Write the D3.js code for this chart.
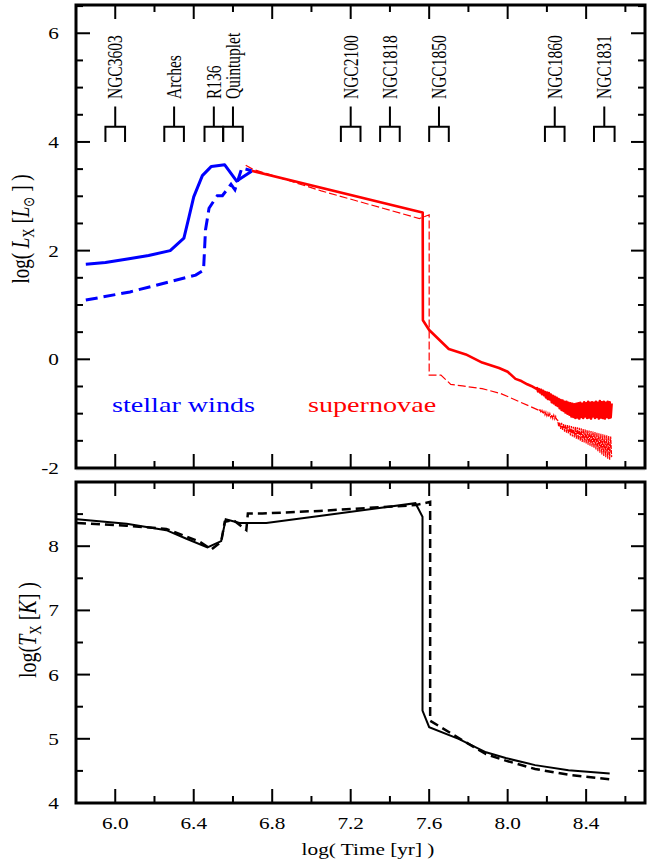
<!DOCTYPE html>
<html><head><meta charset="utf-8">
<script src="https://cdn.jsdelivr.net/npm/d3@7"></script>
<style>body{margin:0;background:#fff}svg{display:block}text{font-family:"Liberation Serif","Times New Roman",serif}</style>
</head><body><svg id="c" width="649" height="861"></svg>
<script>
// ---------------- DATA ----------------
const clusterNames = ["NGC3603","Arches","R136","Quintuplet","NGC2100","NGC1818","NGC1850","NGC1860","NGC1831"];
const clusterLo = [5.95,6.25,6.455,6.55,7.15,7.35,7.60,8.19,8.44];
const clusterHi = [6.05,6.35,6.55,6.65,7.25,7.45,7.70,8.29,8.545];

const blueSolidX = [5.85,5.95,6.07,6.17,6.28,6.35,6.376,6.40,6.444,6.49,6.558,6.619,6.695];
const blueSolidY = [1.75,1.78,1.85,1.91,2.00,2.23,2.62,2.99,3.38,3.55,3.58,3.28,3.46];
const blueDashX = [5.85,6.075,6.28,6.41,6.45,6.46,6.478,6.52,6.546,6.59,6.61,6.645,6.695];
const blueDashY = [1.09,1.24,1.43,1.55,1.64,2.38,2.78,3.01,3.01,3.22,3.12,3.52,3.47];

const redSolidX = [6.695,7.555,7.567,7.568,7.60,7.70,7.787,7.87,7.956,8.00,8.04,8.07,8.10,8.12,8.145];
const redSolidY = [3.47,2.71,2.70,0.72,0.54,0.19,0.09,-0.06,-0.16,-0.23,-0.36,-0.40,-0.46,-0.49,-0.54];
const redSolidTailX = [8.150,8.155,8.160,8.165,8.170,8.175,8.180,8.185,8.190,8.195,8.200,8.205,8.210,8.215,8.220,8.225,8.230,8.235,8.240,8.245,8.250,8.255,8.260,8.265,8.270,8.275,8.280,8.285,8.290,8.295,8.300,8.305,8.310,8.315,8.320,8.325,8.330,8.335,8.340,8.345,8.350,8.355,8.360,8.365,8.370,8.375,8.380,8.385,8.390,8.395,8.400,8.405,8.410,8.415,8.420,8.425,8.430,8.435,8.440,8.445,8.450,8.455,8.460,8.465,8.470,8.475,8.480,8.485,8.490,8.495,8.500,8.505,8.510,8.515,8.520,8.525,8.530];
const redSolidTailY = [-0.53,-0.59,-0.55,-0.61,-0.56,-0.64,-0.58,-0.66,-0.60,-0.70,-0.61,-0.73,-0.62,-0.74,-0.65,-0.79,-0.67,-0.81,-0.69,-0.84,-0.71,-0.86,-0.73,-0.90,-0.75,-0.93,-0.76,-0.95,-0.78,-0.98,-0.78,-1.00,-0.80,-1.02,-0.81,-1.05,-0.82,-1.06,-0.83,-1.08,-0.82,-1.07,-0.81,-1.09,-0.80,-1.06,-0.82,-1.08,-0.79,-1.05,-0.81,-1.08,-0.78,-1.07,-0.80,-1.09,-0.79,-1.05,-0.80,-1.08,-0.78,-1.06,-0.80,-1.09,-0.77,-1.07,-0.79,-1.08,-0.78,-1.09,-0.80,-1.06,-0.78,-1.08,-0.79,-1.07,-0.81];

const redDashX = [6.665,6.70,7.05,7.55,7.60,7.60,7.66,7.71,7.77,7.87,7.965,8.06,8.16];
const redDashY = [3.57,3.50,3.10,2.59,2.66,-0.29,-0.29,-0.46,-0.49,-0.54,-0.63,-0.78,-0.94];
const redDashTailX = [8.160,8.165,8.170,8.175,8.180,8.185,8.190,8.195,8.200,8.205,8.210,8.215,8.220,8.225,8.230,8.235,8.240,8.245,8.250,8.255,8.260,8.265,8.270,8.275,8.280,8.285,8.290,8.295,8.300,8.305,8.310,8.315,8.320,8.325,8.330,8.335,8.340,8.345,8.350,8.355,8.360,8.365,8.370,8.375,8.380,8.385,8.390,8.395,8.400,8.405,8.410,8.415,8.420,8.425,8.430,8.435,8.440,8.445,8.450,8.455,8.460,8.465,8.470,8.475,8.480,8.485,8.490,8.495,8.500,8.505,8.510,8.515,8.520,8.525,8.530];
const redDashTailY = [-0.94,-0.93,-0.98,-0.94,-1.00,-0.96,-1.02,-0.97,-1.04,-0.99,-1.06,-1.00,-1.07,-1.02,-1.09,-1.03,-1.10,-1.05,-1.11,-1.12,-1.24,-1.16,-1.28,-1.17,-1.30,-1.19,-1.33,-1.20,-1.35,-1.21,-1.37,-1.22,-1.40,-1.23,-1.42,-1.24,-1.44,-1.24,-1.46,-1.25,-1.48,-1.26,-1.50,-1.27,-1.52,-1.28,-1.53,-1.29,-1.55,-1.30,-1.57,-1.31,-1.59,-1.32,-1.61,-1.33,-1.63,-1.34,-1.66,-1.35,-1.69,-1.36,-1.72,-1.37,-1.75,-1.38,-1.78,-1.39,-1.80,-1.40,-1.83,-1.41,-1.85,-1.42,-1.80];

const tSolidX = [5.805,6.058,6.26,6.36,6.47,6.54,6.563,6.634,6.77,7.04,7.53,7.566,7.566,7.60,7.75,7.89,7.99,8.14,8.31,8.52];
const tSolidY = [8.42,8.35,8.25,8.12,7.98,8.08,8.42,8.36,8.36,8.47,8.67,8.46,5.44,5.18,5.00,4.79,4.70,4.59,4.51,4.46];
const tDashX = [5.805,6.058,6.26,6.43,6.49,6.54,6.558,6.60,6.668,6.676,6.75,7.04,7.53,7.605,7.605,7.66,7.79,7.89,7.99,8.14,8.31,8.52];
const tDashY = [8.36,8.32,8.27,8.07,7.95,8.07,8.38,8.41,8.25,8.51,8.51,8.55,8.64,8.69,5.28,5.18,4.94,4.76,4.66,4.53,4.44,4.37];

const xTickLabels = ["6.0","6.4","6.8","7.2","7.6","8.0","8.4"];
const y1TickLabels = ["-2","0","2","4","6"];
const y2TickLabels = ["4","5","6","7","8"];

// ---------------- LAYOUT ----------------
const L = 76, R = 645, T1 = 5, B1 = 468, T2 = 482, B2 = 803;
const x = d3.scaleLinear().domain([5.8, 8.7]).range([L, R]);
const y1 = d3.scaleLinear().domain([-2, 6.52]).range([B1, T1]);
const y2 = d3.scaleLinear().domain([4, 9]).range([B2, T2]);

const svg = d3.select("#c");
const FONT = 17, SX = 1.25;

svg.append("line").attr("x1", L).attr("x2", R).attr("y1", 470).attr("y2", 470)
  .attr("stroke", "#d8d8d8").attr("stroke-width", 1);

function panel(y, top, bot, yMajorEvery, clipId) {
  const g = svg.append("g");
  svg.append("clipPath").attr("id", clipId).append("rect")
    .attr("x", L).attr("y", top).attr("width", R - L).attr("height", bot - top);
  const xt = d3.range(6.0, 8.61, 0.2);
  xt.forEach((v, i) => {
    const len = (i % 2 === 0) ? 14 : 7;
    g.append("line").attr("x1", x(v)).attr("x2", x(v)).attr("y1", bot).attr("y2", bot - len)
      .attr("stroke", "#000").attr("stroke-width", 2);
    g.append("line").attr("x1", x(v)).attr("x2", x(v)).attr("y1", top).attr("y2", top + len)
      .attr("stroke", "#000").attr("stroke-width", 2);
  });
  const [d0, d1] = y.domain();
  const yt = d3.range(Math.ceil(d0 * 2) / 2, d1 + 1e-6, 0.5);
  yt.forEach(v => {
    const major = Math.abs(v / yMajorEvery - Math.round(v / yMajorEvery)) < 1e-6;
    const len = major ? 14 : 7;
    g.append("line").attr("x1", L).attr("x2", L + len).attr("y1", y(v)).attr("y2", y(v))
      .attr("stroke", "#000").attr("stroke-width", 2);
    g.append("line").attr("x1", R).attr("x2", R - len).attr("y1", y(v)).attr("y2", y(v))
      .attr("stroke", "#000").attr("stroke-width", 2);
  });
  g.append("rect").attr("x", L).attr("y", top).attr("width", R - L).attr("height", bot - top)
    .attr("fill", "none").attr("stroke", "#000").attr("stroke-width", 3);
  return g;
}

panel(y1, T1, B1, 2, "clip1");
panel(y2, T2, B2, 1, "clip2");

xTickLabels.forEach(t => {
  svg.append("text").attr("transform", `translate(${x(+t)},829) scale(${SX},1)`)
    .attr("text-anchor", "middle").attr("font-size", FONT).text(t);
});
y1TickLabels.forEach(t => {
  svg.append("text").attr("transform", `translate(59,${y1(+t) + 6}) scale(${SX},1)`)
    .attr("text-anchor", "end").attr("font-size", FONT).text(t);
});
y2TickLabels.forEach(t => {
  svg.append("text").attr("transform", `translate(59,${y2(+t) + 6}) scale(${SX},1)`)
    .attr("text-anchor", "end").attr("font-size", FONT).text(t);
});

svg.append("text").attr("transform", `translate(368,855) scale(${SX},1)`)
  .attr("text-anchor", "middle").attr("font-size", FONT).text("log( Time [yr] )");

const t1 = svg.append("text").attr("transform", `translate(29,229) scale(1.28,1) rotate(-90)`)
  .attr("text-anchor", "middle").attr("font-size", 19);
t1.append("tspan").text("log( ");
t1.append("tspan").attr("font-style", "italic").text("L");
t1.append("tspan").attr("font-size", 13).attr("dy", 4).text("X");
t1.append("tspan").attr("dy", -4).text(" [");
t1.append("tspan").attr("font-style", "italic").text("L");
t1.append("tspan").attr("font-size", 12).attr("dy", 4).attr("font-family", "DejaVu Sans").text("\u2299");
t1.append("tspan").attr("dy", -4).text(" ] )");

const t2 = svg.append("text").attr("transform", `translate(36,630) scale(1.28,1) rotate(-90)`)
  .attr("text-anchor", "middle").attr("font-size", 20);
t2.append("tspan").text("log(");
t2.append("tspan").attr("font-style", "italic").text("T");
t2.append("tspan").attr("font-size", 13).attr("dy", 4).text("X");
t2.append("tspan").attr("dy", -4).text(" [");
t2.append("tspan").attr("font-style", "italic").text("K");
t2.append("tspan").text("] )");

const bLeg = 4.0, bBar = 4.28, bStem = 4.65, bText = 4.79;
clusterNames.forEach((n, i) => {
  const lo = x(clusterLo[i]), hi = x(clusterHi[i]), mid = (lo + hi) / 2;
  const p = `M${lo},${y1(bLeg)}V${y1(bBar)}H${hi}V${y1(bLeg)}M${mid},${y1(bBar)}V${y1(bStem)}`;
  svg.append("path").attr("d", p).attr("fill", "none").attr("stroke", "#000").attr("stroke-width", 2);
  svg.append("text").attr("transform", `translate(${mid},${y1(bText)}) scale(1.4,1) rotate(-90)`)
    .attr("dy", "0.33em").attr("font-size", 15.5).text(n);
});

const line = (ys) => d3.line().x(d => x(d[0])).y(d => ys(d[1]));
const zip = (a, b) => a.map((v, i) => [v, b[i]]);
const g1 = svg.append("g").attr("clip-path", "url(#clip1)");
const g2 = svg.append("g").attr("clip-path", "url(#clip2)");

g1.append("path").attr("d", line(y1)(zip(redDashX, redDashY))).attr("fill", "none")
  .attr("stroke", "#ff0000").attr("stroke-width", 1.2).attr("stroke-dasharray", "8,3");
g1.append("path").attr("d", line(y1)(zip(redDashTailX, redDashTailY))).attr("fill", "none")
  .attr("stroke", "#ff0000").attr("stroke-width", 1.2).attr("stroke-dasharray", "4,1");
g1.append("path").attr("d", line(y1)(zip(redSolidX.concat(redSolidTailX), redSolidY.concat(redSolidTailY))))
  .attr("fill", "none").attr("stroke", "#ff0000").attr("stroke-width", 2.6).attr("stroke-linejoin", "round");
g1.append("path").attr("d", line(y1)(zip(blueDashX, blueDashY))).attr("fill", "none")
  .attr("stroke", "#0000ff").attr("stroke-width", 3).attr("stroke-dasharray", "12,6");
g1.append("path").attr("d", line(y1)(zip(blueSolidX, blueSolidY))).attr("fill", "none")
  .attr("stroke", "#0000ff").attr("stroke-width", 3).attr("stroke-linejoin", "round");

g2.append("path").attr("d", line(y2)(zip(tDashX, tDashY))).attr("fill", "none")
  .attr("stroke", "#000").attr("stroke-width", 2.5).attr("stroke-dasharray", "9,5");
g2.append("path").attr("d", line(y2)(zip(tSolidX, tSolidY))).attr("fill", "none")
  .attr("stroke", "#000").attr("stroke-width", 2);

svg.append("text").attr("transform", `translate(112,412) scale(1.28,1)`)
  .attr("font-size", 22).attr("fill", "#0000ff").text("stellar winds");
svg.append("text").attr("transform", `translate(308,412) scale(1.28,1)`)
  .attr("font-size", 22).attr("fill", "#ff0000").text("supernovae");
</script></body></html>
